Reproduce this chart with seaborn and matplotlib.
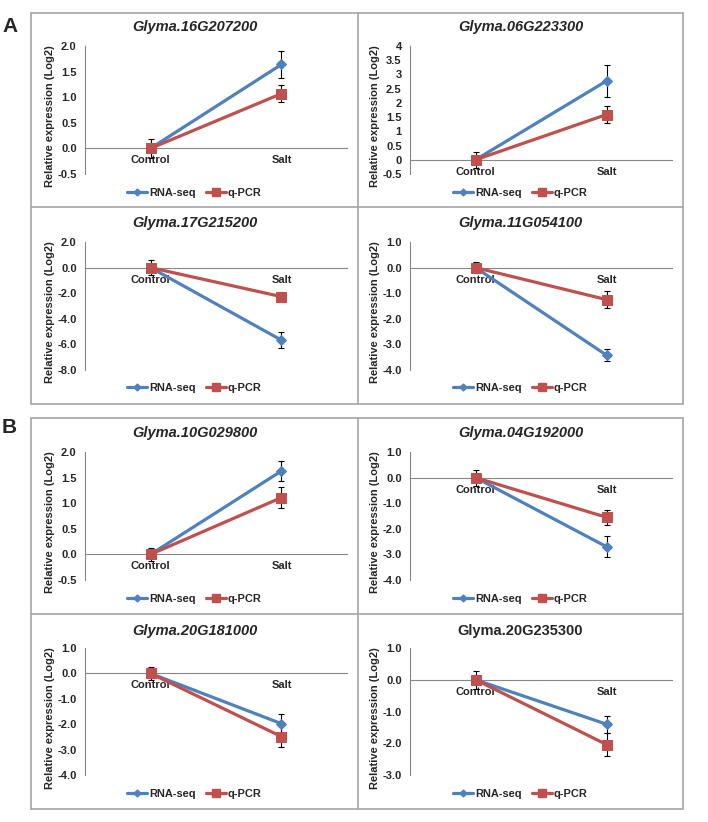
import numpy as np
import pandas as pd
import seaborn as sns
import matplotlib.pyplot as plt
from matplotlib.ticker import MultipleLocator, FuncFormatter
from matplotlib.lines import Line2D

# ---- data ----
genes = ["Glyma.16G207200", "Glyma.06G223300", "Glyma.17G215200", "Glyma.11G054100",
         "Glyma.10G029800", "Glyma.04G192000", "Glyma.20G181000", "Glyma.20G235300"]
italic_title = [True, True, True, True, True, True, True, False]
conditions = ["Control", "Salt"]

rna_ctrl = [0.0, 0.0, 0.0, 0.0, 0.0, 0.0, 0.0, 0.0]
rna_salt = [1.64, 2.77, -5.67, -3.42, 1.63, -2.70, -1.98, -1.40]
rna_ctrl_err = [0.08, 0.12, 0.25, 0.10, 0.06, 0.15, 0.12, 0.14]
rna_salt_err = [0.26, 0.55, 0.62, 0.24, 0.19, 0.41, 0.38, 0.27]

qpcr_ctrl = [0.0, 0.0, 0.0, 0.0, 0.0, 0.0, 0.0, 0.0]
qpcr_salt = [1.07, 1.59, -2.27, -1.25, 1.11, -1.55, -2.49, -2.04]
qpcr_ctrl_err = [0.18, 0.28, 0.60, 0.20, 0.13, 0.31, 0.26, 0.28]
qpcr_salt_err = [0.16, 0.30, 0.35, 0.33, 0.20, 0.29, 0.42, 0.36]

y_min = [-0.5, -0.5, -8.0, -4.0, -0.5, -4.0, -4.0, -3.0]
y_max = [2.0, 4.0, 2.0, 1.0, 2.0, 1.0, 1.0, 1.0]
y_step = [0.5, 0.5, 2.0, 1.0, 0.5, 1.0, 1.0, 1.0]
y_fmt = ["{:.1f}", "{:g}", "{:.1f}", "{:.1f}", "{:.1f}", "{:.1f}", "{:.1f}", "{:.1f}"]

BLUE = "#4F81BD"
RED = "#C0504D"
GREY = "#868686"
BORDER = "#A6A6A6"

W, H = 708, 822
sns.set_style("white")
plt.rcParams["font.family"] = ["Liberation Sans", "DejaVu Sans"]
plt.rcParams["font.weight"] = "bold"

fig = plt.figure(figsize=(W / 100, H / 100), dpi=100)


def fx(px):
    return px / W


def fy(py):
    return 1 - py / H


col_x = [(85, 347), (410, 672)]
row_y = [(46, 174), (242, 370), (452, 580), (648, 775)]
title_y = [27, 223, 433, 631]
legend_y = [193, 388, 599, 794]
panel_cx = [194.5, 520.5]

for i, gene in enumerate(genes):
    r, c = divmod(i, 2)
    x0, x1 = col_x[c]
    ytop, ybot = row_y[r]
    ax = fig.add_axes([fx(x0), fy(ybot), fx(x1 - x0), (ybot - ytop) / H])
    ax.set_facecolor("none")

    pos = np.arange(len(conditions)) + 0.5
    df_rna = pd.DataFrame({"pos": pos, "value": [rna_ctrl[i], rna_salt[i]],
                           "err": [rna_ctrl_err[i], rna_salt_err[i]]})
    df_q = pd.DataFrame({"pos": pos, "value": [qpcr_ctrl[i], qpcr_salt[i]],
                         "err": [qpcr_ctrl_err[i], qpcr_salt_err[i]]})

    for d in (df_rna, df_q):
        ax.errorbar(d["pos"], d["value"], yerr=d["err"], fmt="none",
                    ecolor="black", elinewidth=0.8, capsize=2, capthick=0.8, zorder=2)

    sns.lineplot(data=df_rna, x="pos", y="value", ax=ax, color=BLUE, linewidth=2.3,
                 marker="D", markersize=5, markeredgecolor=BLUE, zorder=3)
    sns.lineplot(data=df_q, x="pos", y="value", ax=ax, color=RED, linewidth=2.3,
                 marker="s", markersize=6.5, markeredgecolor=RED, zorder=4)

    ax.set_xlim(0, 2)
    ax.set_ylim(y_min[i], y_max[i])
    ax.yaxis.set_major_locator(MultipleLocator(y_step[i]))
    fmt = y_fmt[i]
    ax.yaxis.set_major_formatter(FuncFormatter(lambda v, p, f=fmt: f.format(v + 0.0)))

    ax.set_xticks(pos)
    ax.set_xticklabels(conditions)
    ax.set_xticks([0, 1, 2], minor=True)
    ax.tick_params(axis="x", which="major", length=0, pad=5, labelsize=8)
    ax.tick_params(axis="x", which="minor", length=4, color=GREY, direction="out", width=0.8)
    ax.tick_params(axis="y", length=4, color=GREY, direction="out", width=0.8,
                   labelsize=8, pad=2)
    for lab in ax.get_yticklabels() + ax.get_xticklabels():
        lab.set_fontweight("bold")

    for s in ("top", "right"):
        ax.spines[s].set_visible(False)
    ax.spines["bottom"].set_position(("data", 0))
    ax.spines["bottom"].set_color(GREY)
    ax.spines["left"].set_color(GREY)
    ax.spines["bottom"].set_linewidth(0.8)
    ax.spines["left"].set_linewidth(0.8)

    ax.set_xlabel("")
    ax.set_ylabel("Relative expression (Log2)", fontsize=8, fontweight="bold")
    ax.yaxis.set_label_coords(-0.115, 0.45)

    fig.text(fx(panel_cx[c]), fy(title_y[r]), gene, ha="center", va="center",
             fontsize=10.5, fontweight="bold",
             fontstyle="italic" if italic_title[i] else "normal")

    handles = [Line2D([], [], color=BLUE, lw=2.3, marker="D", markersize=3.5),
               Line2D([], [], color=RED, lw=2.3, marker="s", markersize=5.5)]
    ax.legend(handles, ["RNA-seq", "q-PCR"], loc="center", ncol=2, frameon=False,
              bbox_to_anchor=(fx(panel_cx[c]), fy(legend_y[r])),
              bbox_transform=fig.transFigure, prop={"size": 7.9, "weight": "bold"},
              handlelength=1.8, handletextpad=0.2, columnspacing=0.9, borderpad=0)

# panel borders
def hline(y, xa, xb):
    fig.add_artist(Line2D([fx(xa), fx(xb)], [fy(y), fy(y)], color=BORDER, lw=1.2))


def vline(x, ya, yb):
    fig.add_artist(Line2D([fx(x), fx(x)], [fy(ya), fy(yb)], color=BORDER, lw=1.2))


for top, mid, bot in [(13, 207, 404), (418, 614, 809)]:
    for y in (top, mid, bot):
        hline(y, 31, 683)
    for x in (31, 358, 683):
        vline(x, top, bot)

fig.text(fx(2), fy(26), "A", ha="left", va="center", fontsize=15, fontweight="bold")
fig.text(fx(2), fy(427), "B", ha="left", va="center", fontsize=15, fontweight="bold")

fig.savefig("out.png", dpi=100)
